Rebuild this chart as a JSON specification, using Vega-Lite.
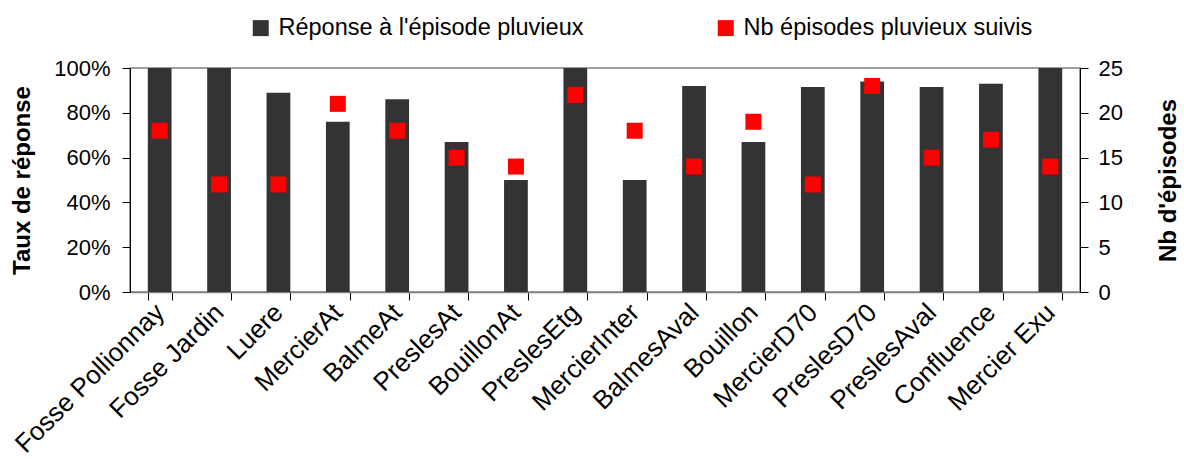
{
  "$schema": "https://vega.github.io/schema/vega-lite/v6.json",
  "width": 950,
  "height": 224,
  "autosize": {"type": "none"},
  "padding": {"left": 130, "top": 68, "right": 104, "bottom": 167},
  "background": "white",
  "config": {
    "font": "Liberation Sans",
    "view": {"stroke": "#808080", "strokeWidth": 1.5},
    "axis": {"labelFont": "Liberation Sans", "titleFont": "Liberation Sans", "labelColor": "black", "titleColor": "black", "grid": false}
  },
  "data": {
    "values": [
      {"site": "Fosse Pollionnay", "taux": 1.0, "nb": 18},
      {"site": "Fosse Jardin", "taux": 1.0, "nb": 12},
      {"site": "Luere", "taux": 0.89, "nb": 12},
      {"site": "MercierAt", "taux": 0.76, "nb": 21},
      {"site": "BalmeAt", "taux": 0.86, "nb": 18},
      {"site": "PreslesAt", "taux": 0.67, "nb": 15},
      {"site": "BouillonAt", "taux": 0.5, "nb": 14},
      {"site": "PreslesEtg", "taux": 1.0, "nb": 22},
      {"site": "MercierInter", "taux": 0.5, "nb": 18},
      {"site": "BalmesAval", "taux": 0.92, "nb": 14},
      {"site": "Bouillon", "taux": 0.67, "nb": 19},
      {"site": "MercierD70", "taux": 0.915, "nb": 12},
      {"site": "PreslesD70", "taux": 0.94, "nb": 23},
      {"site": "PreslesAval", "taux": 0.915, "nb": 15},
      {"site": "Confluence", "taux": 0.93, "nb": 17},
      {"site": "Mercier Exu", "taux": 1.0, "nb": 14}
    ]
  },
  "encoding": {
    "x": {
      "field": "site",
      "type": "nominal",
      "sort": null,
      "scale": {"paddingInner": 0.6, "paddingOuter": 0.3},
      "axis": {
        "title": null,
        "labelAngle": -45,
        "labelAlign": "right",
        "labelBaseline": "middle",
        "labelFontSize": 26,
        "labelPadding": 8,
        "tickBand": "extent",
        "tickSize": 8,
        "tickColor": "black",
        "domainColor": "#808080",
        "domainWidth": 1.5,
        "labelLimit": 300
      }
    }
  },
  "layer": [
    {
      "mark": {"type": "bar", "color": "#333333"},
      "encoding": {
        "y": {
          "field": "taux",
          "type": "quantitative",
          "scale": {"domain": [0, 1], "nice": false},
          "axis": {
            "title": "Taux de réponse",
            "format": ".0%",
            "values": [0, 0.2, 0.4, 0.6, 0.8, 1.0],
            "labelFontSize": 22,
            "titleFontSize": 24,
            "titleFontWeight": "bold",
            "titlePadding": 19,
            "tickSize": 8,
            "tickColor": "black",
            "domainColor": "black",
            "labelPadding": 12
          }
        },
        "color": {
          "datum": "Réponse à l'épisode pluvieux",
          "type": "nominal",
          "scale": {
            "domain": ["Réponse à l'épisode pluvieux", "Nb épisodes pluvieux suivis"],
            "range": ["#333333", "#FF0000"]
          },
          "legend": {
            "title": null,
            "orient": "none",
            "legendX": 119,
            "legendY": -52,
            "direction": "horizontal",
            "symbolType": "square",
            "symbolSize": 256,
            "symbolStrokeWidth": 0,
            "labelFontSize": 23.5,
            "labelFont": "Liberation Sans",
            "labelColor": "black",
            "labelLimit": 400,
            "columnPadding": 130,
            "labelOffset": 6
          }
        }
      }
    },
    {
      "mark": {"type": "point", "shape": "square", "filled": true, "size": 256, "opacity": 1},
      "encoding": {
        "y": {
          "field": "nb",
          "type": "quantitative",
          "scale": {"domain": [0, 25], "nice": false},
          "axis": {
            "orient": "right",
            "title": "Nb d'épisodes",
            "titleAngle": -90,
            "values": [0, 5, 10, 15, 20, 25],
            "labelFontSize": 22,
            "titleFontSize": 24,
            "titleFontWeight": "bold",
            "titlePadding": 58,
            "tickSize": 8,
            "tickColor": "black",
            "domainColor": "black",
            "labelPadding": 10
          }
        },
        "color": {"datum": "Nb épisodes pluvieux suivis", "type": "nominal"}
      }
    }
  ],
  "resolve": {"scale": {"y": "independent"}}
}
